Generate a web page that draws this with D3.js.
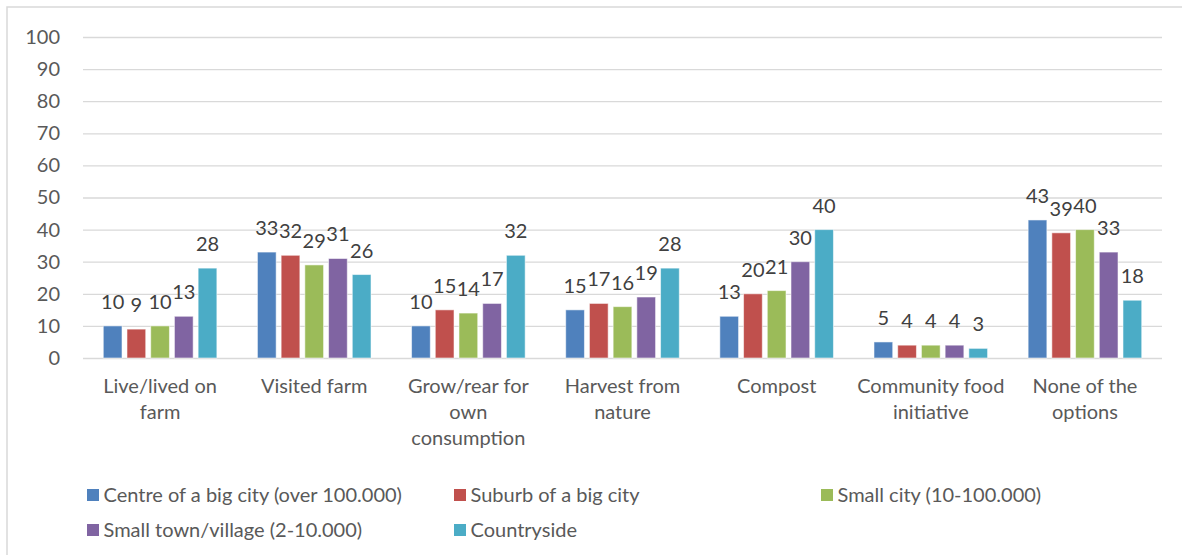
<!DOCTYPE html>
<html>
<head>
<meta charset="utf-8">
<script src="https://cdn.jsdelivr.net/npm/d3@7"></script>
<style>
  html, body { margin: 0; padding: 0; background: #fff; }
  svg { display: block; font-family: Lato, "Open Sans", sans-serif; }
</style>
</head>
<body>
<svg id="chart" width="1182" height="555"></svg>
<script>
// Category labels, already split into the lines they are shown on
const categoryLines = [
  ["Live/lived on", "farm"],
  ["Visited farm"],
  ["Grow/rear for", "own", "consumption"],
  ["Harvest from", "nature"],
  ["Compost"],
  ["Community food", "initiative"],
  ["None of the", "options"]
];
const categories = categoryLines.map(l => l.join(" "));

// Place of residence groups
const seriesNames = [
  "Centre of a big city (over 100.000)",
  "Suburb of a big city",
  "Small city (10-100.000)",
  "Small town/village (2-10.000)",
  "Countryside"
];
const seriesColors = ["#4F81BD", "#C0504D", "#9BBB59", "#8064A2", "#4BACC6"];

// Percentages per group, one value per category
const centreBigCity   = [10, 33, 10, 15, 13, 5, 43];
const suburbBigCity   = [9, 32, 15, 17, 20, 4, 39];
const smallCity       = [10, 29, 14, 16, 21, 4, 40];
const smallTown       = [13, 31, 17, 19, 30, 4, 33];
const countryside     = [28, 26, 32, 28, 40, 3, 18];
const seriesValues = [centreBigCity, suburbBigCity, smallCity, smallTown, countryside];

const yTicks = [0, 10, 20, 30, 40, 50, 60, 70, 80, 90, 100];

const svg = d3.select("#chart");
const textColor = "#595959";
const gridColor = "#d9d9d9";
const fontSize = 20;

// Outer chart frame
svg.append("rect")
  .attr("x", 7).attr("y", 7)
  .attr("width", 1300).attr("height", 700)
  .attr("fill", "#fff")
  .attr("stroke", gridColor)
  .attr("stroke-width", 1.5);

const plot = { left: 83, right: 1162, top: 37, bottom: 358 };

const y = d3.scaleLinear().domain([0, 100]).range([plot.bottom, plot.top]);
const x0 = d3.scaleBand().domain(categories).range([plot.left, plot.right]).padding(0);
const groupWidth = x0.bandwidth() * 5 / 6.5;
const x1 = d3.scaleBand().domain(seriesNames)
  .range([-groupWidth / 2, groupWidth / 2])
  .paddingInner(0.21).paddingOuter(0.105);

// Horizontal gridlines and value axis labels
const yAxis = d3.axisLeft(y)
  .tickValues(yTicks)
  .tickSize(-(plot.right - plot.left))
  .tickPadding(23)
  .tickFormat(d3.format("d"));

const gAxis = svg.append("g")
  .attr("transform", `translate(${plot.left},0)`)
  .call(yAxis);
gAxis.select(".domain").remove();
gAxis.selectAll(".tick line")
  .attr("stroke", gridColor)
  .attr("stroke-width", 1.3);
gAxis.selectAll(".tick text")
  .attr("fill", textColor)
  .attr("font-size", fontSize)
  .attr("font-family", "Lato, sans-serif");

// Bars
const groups = svg.append("g").selectAll("g")
  .data(categories)
  .join("g")
  .attr("transform", d => `translate(${x0(d) + x0.bandwidth() / 2},0)`);

groups.each(function(cat, ci) {
  const g = d3.select(this);
  const rows = seriesNames.map((s, si) => ({ s, si, v: seriesValues[si][ci] }));
  g.selectAll("rect")
    .data(rows)
    .join("rect")
    .attr("x", d => x1(d.s))
    .attr("width", x1.bandwidth())
    .attr("y", d => y(d.v))
    .attr("height", d => y(0) - y(d.v))
    .attr("fill", d => seriesColors[d.si])
    .attr("stroke", "#fff")
    .attr("stroke-opacity", 0.55)
    .attr("stroke-width", 1);
  g.selectAll("text.val")
    .data(rows)
    .join("text")
    .attr("class", "val")
    .attr("x", d => x1(d.s) + x1.bandwidth() / 2)
    .attr("y", d => y(d.v) - 17)
    .attr("text-anchor", "middle")
    .attr("fill", "#404040")
    .attr("font-size", fontSize)
    .text(d => d.v);
});

// Category labels under the axis
const catLabels = svg.append("g").selectAll("text")
  .data(categories)
  .join("text")
  .attr("text-anchor", "middle")
  .attr("fill", textColor)
  .attr("font-size", fontSize)
  .attr("transform", d => `translate(${x0(d) + x0.bandwidth() / 2},393)`);
catLabels.each(function(d, i) {
  d3.select(this).selectAll("tspan")
    .data(categoryLines[i])
    .join("tspan")
    .attr("x", 0)
    .attr("dy", (l, j) => j === 0 ? 0 : 26)
    .text(l => l);
});

// Legend, three columns
const legend = svg.append("g").selectAll("g")
  .data(seriesNames)
  .join("g")
  .attr("transform", (d, i) => `translate(${87 + (i % 3) * 367},${489 + Math.floor(i / 3) * 35})`);
legend.append("rect")
  .attr("width", 12).attr("height", 12)
  .attr("fill", (d, i) => seriesColors[i]);
legend.append("text")
  .attr("x", 16.5)
  .attr("y", 13)
  .attr("fill", textColor)
  .attr("font-size", fontSize)
  .text(d => d);
</script>
</body>
</html>
